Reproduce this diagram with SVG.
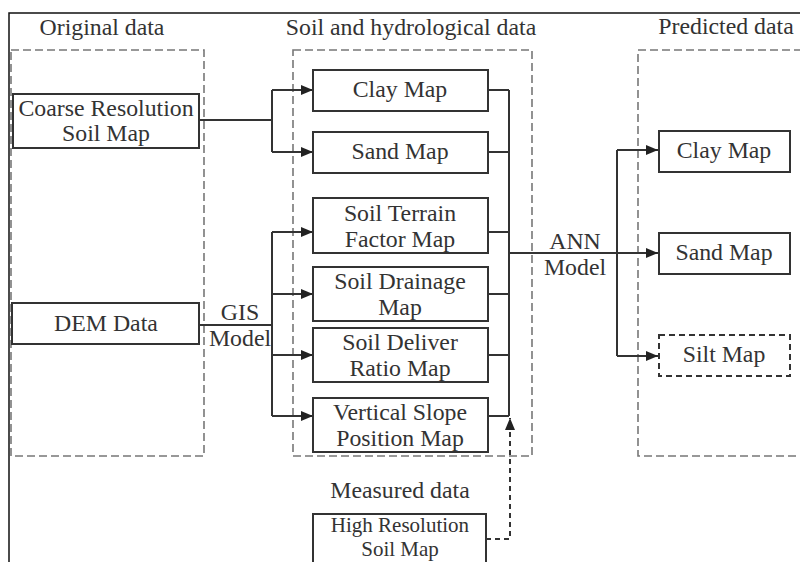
<svg xmlns="http://www.w3.org/2000/svg" width="800" height="562" viewBox="0 0 800 562">
<style>
text{font-family:"Liberation Serif","Times New Roman",serif;font-size:23.8px;fill:#333;text-anchor:middle}
.box{fill:#fff;stroke:#333;stroke-width:2}
.grp{fill:none;stroke:#777;stroke-width:1.6;stroke-dasharray:8 4}
.dbox{fill:#fff;stroke:#333;stroke-width:2;stroke-dasharray:6 4}
.ln{fill:none;stroke:#333;stroke-width:2}
.arr{marker-end:url(#ah)}
.sm{font-size:21px}
</style>
<defs>
<marker id="ah" markerUnits="userSpaceOnUse" markerWidth="12" markerHeight="10" refX="12" refY="5" orient="auto">
<path d="M0,0 L12,5 L0,10 Z" fill="#222"/>
</marker>
</defs>
<rect x="0" y="0" width="800" height="562" fill="#fff"/>
<path d="M9,562 V13 H800" fill="none" stroke="#111" stroke-width="1.5"/>
<g id="group-original">
<rect class="grp" x="11" y="50" width="193" height="406"/>
<text x="102" y="35">Original data</text>
</g>
<g id="group-soil">
<rect class="grp" x="293" y="50" width="239" height="406"/>
<text x="411" y="35">Soil and hydrological data</text>
</g>
<g id="group-predicted">
<rect class="grp" x="638" y="50" width="170" height="406"/>
<text x="726" y="34">Predicted data</text>
</g>
<g id="connectors">
<path class="ln" d="M199,120 H272 M272,90 V152"/>
<path class="ln arr" d="M272,90 H313"/>
<path class="ln arr" d="M272,152 H313"/>
<path class="ln" d="M199,325 H272 M272,232 V416"/>
<path class="ln arr" d="M272,232 H313"/>
<path class="ln arr" d="M272,294 H313"/>
<path class="ln arr" d="M272,355 H313"/>
<path class="ln arr" d="M272,416 H313"/>
<path class="ln" d="M488,90 H509 M488,152 H509 M488,232 H509 M488,294 H509 M488,355 H509 M488,416 H509 M509,90 V416"/>
<path class="ln arr" d="M509,253 H658"/>
<path class="ln" d="M617,150 V356"/>
<path class="ln arr" d="M617,150 H658"/>
<path class="ln arr" d="M617,356 H658"/>
<path class="ln arr" d="M486,539 H510 V418" stroke-dasharray="5 4"/>
<text x="575" y="249">ANN</text>
<text x="575" y="275">Model</text>
<text x="240" y="320">GIS</text>
<text x="240" y="346">Model</text>
</g>
<g id="coarse">
<rect class="box" x="13" y="94" width="186" height="54"/>
<text x="106" y="116">Coarse Resolution</text>
<text x="106" y="141">Soil Map</text>
</g>
<g id="dem">
<rect class="box" x="12" y="303" width="187" height="41"/>
<text x="106" y="331">DEM Data</text>
</g>
<g id="clay-map">
<rect class="box" x="313" y="70" width="175" height="41"/>
<text x="400" y="97">Clay Map</text>
</g>
<g id="sand-map">
<rect class="box" x="313" y="132" width="175" height="41"/>
<text x="400" y="159">Sand Map</text>
</g>
<g id="terrain">
<rect class="box" x="313" y="198" width="175" height="55"/>
<text x="400" y="221">Soil Terrain</text>
<text x="400" y="247">Factor Map</text>
</g>
<g id="drainage">
<rect class="box" x="313" y="267" width="175" height="54"/>
<text x="400" y="289">Soil Drainage</text>
<text x="400" y="315">Map</text>
</g>
<g id="deliver">
<rect class="box" x="313" y="328" width="175" height="54"/>
<text x="400" y="350">Soil Deliver</text>
<text x="400" y="376">Ratio Map</text>
</g>
<g id="vertical">
<rect class="box" x="313" y="398" width="175" height="54"/>
<text x="400" y="420">Vertical Slope</text>
<text x="400" y="446">Position Map</text>
</g>
<g id="pred-clay">
<rect class="box" x="659" y="131" width="131" height="41"/>
<text x="724" y="158">Clay Map</text>
</g>
<g id="pred-sand">
<rect class="box" x="659" y="233" width="131" height="41"/>
<text x="724" y="260">Sand Map</text>
</g>
<g id="pred-silt">
<rect class="dbox" x="659" y="335" width="131" height="41"/>
<text x="724" y="362">Silt Map</text>
</g>
<g id="measured">
<text x="400" y="498">Measured data</text>
</g>
<g id="high-res">
<rect class="box" x="313" y="514" width="173" height="60"/>
<text class="sm" x="400" y="532">High Resolution</text>
<text class="sm" x="400" y="556">Soil Map</text>
</g>
</svg>
